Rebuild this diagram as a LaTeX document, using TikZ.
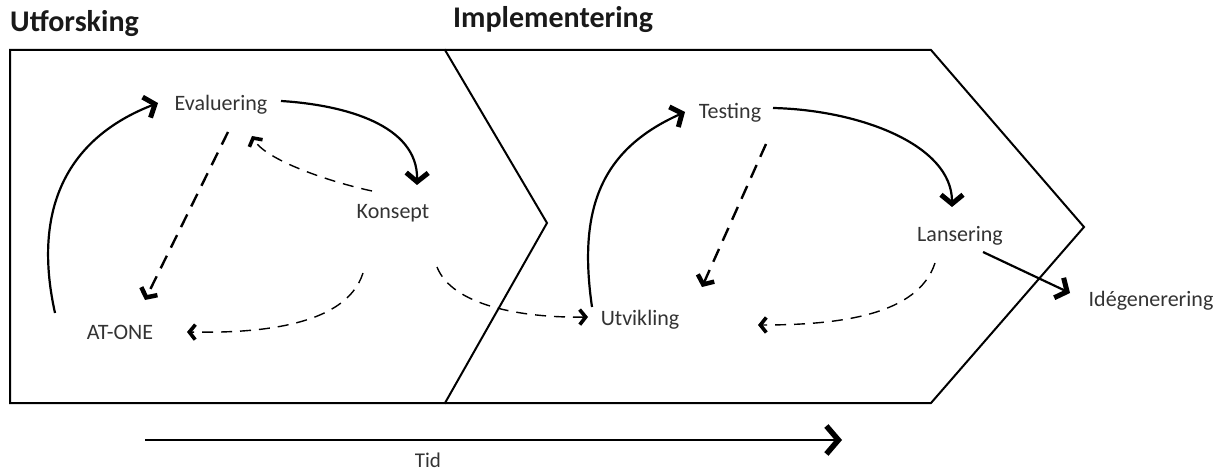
\documentclass[tikz,border=0pt]{standalone}
\usepackage{fontspec}
\setmainfont{Carlito}
\usetikzlibrary{arrows.meta}

\tikzset{
  frame/.style={line width=2pt, line join=miter},
  heading/.style={font=\fontsize{30}{36}\selectfont\bfseries, text=black!90, inner sep=0pt, anchor=base west},
  label/.style={font=\fontsize{22}{26}\selectfont, text=black!80, inner sep=0pt, anchor=base},
  solidarrow/.style={line width=2.2pt, -{Straight Barb[sharp,length=9pt,width=22pt,line width=5pt]}},
  dashthick/.style={line width=2.4pt, dash pattern=on 14pt off 9pt, -{Straight Barb[sharp,length=7pt,width=18pt,line width=4.5pt]}},
  dashthin/.style={line width=1.4pt, dash pattern=on 11pt off 8pt, -{Straight Barb[sharp,length=6pt,width=15pt,line width=3.6pt]}},
  timearrow/.style={line width=2.2pt, -{Straight Barb[sharp,length=12pt,width=28pt,line width=5.5pt]}}
}

\begin{document}
\begin{tikzpicture}[x=1pt, y=-1pt]
  \useasboundingbox (0,0) rectangle (1225,470);

  % phase headings
  \node[heading] (hutf) at (10,32) {Utforsking};
  \node[heading] (himp) at (453,28) {Implementering};

  % exploration phase: box with a chevron point
  \draw[frame] (10,50) -- (445,50) -- (547,223) -- (445,403) -- (10,403) -- cycle;
  % implementation phase: notched arrow shape
  \draw[frame] (445,50) -- (931,50) -- (1084,227) -- (931,403) -- (445,403);

  % activities
  \node[label] (ev) at (221,111) {Evaluering};
  \node[label] (ko) at (393,219) {Konsept};
  \node[label] (at) at (120,339) {AT-ONE};
  \node[label] (te) at (730,119) {Testing};
  \node[label] (ut) at (640,325) {Utvikling};
  \node[label] (la) at (960,242) {Lansering};
  \node[label] (id) at (1151,306) {Idégenerering};

  \coordinate (c1) at (702,287);
  \coordinate (c2) at (758,325);

  % exploration cycle
  \draw[solidarrow] ([shift={(-65,-26)}]at.base) .. controls +(-25,-113) and +(-83,32) .. ([shift={(-63,-8)}]ev.base);
  \draw[solidarrow] ([shift={(60,-10)}]ev.base) .. controls +(64,4) and +(1,-60) .. ([shift={(24,-34)}]ko.base);
  \draw[dashthick] ([shift={(7,21)}]ev.base) -- ([shift={(25,-39)}]at.base);
  \draw[dashthin] ([shift={(-21,-28)}]ko.base) .. controls +(-42,-9) and +(13,24) .. ([shift={(31,25)}]ev.base);
  \draw[dashthin] ([shift={(-30,54)}]ko.base) .. controls +(-18,57) and +(58,1) .. ([shift={(67,-7)}]at.base);

  % hand-over to implementation
  \draw[dashthin] ([shift={(44,48)}]ko.base) .. controls +(15,38) and +(-68,1) .. ([shift={(-52,-8)}]ut.base);

  % implementation cycle
  \draw[solidarrow] ([shift={(-48,-18)}]ut.base) .. controls +(-14,-97) and +(-85,38) .. ([shift={(-45,-7)}]te.base);
  \draw[solidarrow] ([shift={(43,-11)}]te.base) .. controls +(87,2) and +(0,-62) .. ([shift={(-8,-35)}]la.base);
  \draw[dashthick] ([shift={(36,25)}]te.base) -- (c1);
  \draw[dashthin] ([shift={(-25,21)}]la.base) .. controls +(-17,52) and +(82,0) .. (c2);
  \draw[solidarrow] ([shift={(23,10)}]la.base) -- ([shift={(-81,-13)}]id.base);

  % time axis
  \coordinate (t0) at (145,440);
  \coordinate (t1) at (842,440);
  \draw[timearrow] (t0) -- (t1);
  \node[label, font=\fontsize{21}{25}\selectfont] (tid) at (428,467) {Tid};
\end{tikzpicture}
\end{document}
